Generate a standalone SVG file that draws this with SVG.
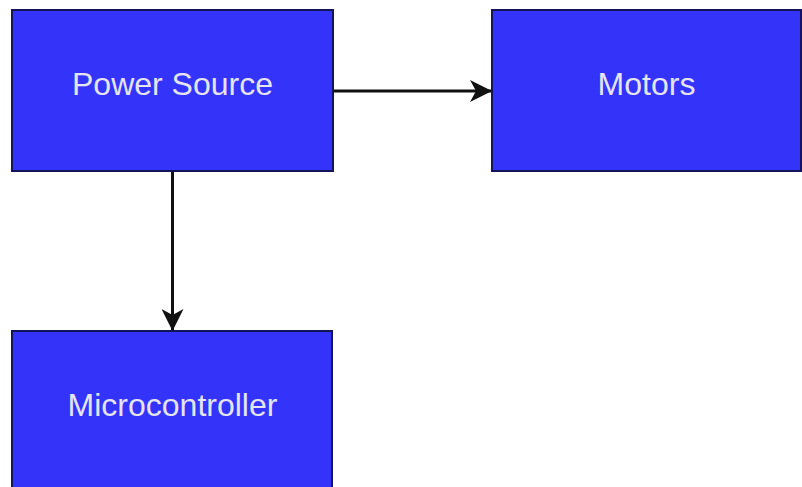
<svg xmlns="http://www.w3.org/2000/svg" width="802" height="487" viewBox="0 0 802 487">
  <style>
    .box { fill: #3333FA; stroke: #14145A; stroke-width: 2; }
    .label { font-family: "Liberation Sans", Arial, sans-serif; font-size: 32px; fill: #E4E4F2; text-anchor: middle; }
    .edge { stroke: #111111; stroke-width: 3; fill: none; }
  </style>
  <defs>
    <marker id="arrow" viewBox="0 0 22 22" refX="21" refY="11" markerWidth="22" markerHeight="22" markerUnits="userSpaceOnUse" orient="auto">
      <path d="M0,0 L22,11 L0,22 L6,11 Z" fill="#111111"/>
    </marker>
  </defs>
  <rect width="802" height="487" fill="#FFFFFF"/>
  <g id="power-source">
    <rect class="box" x="12" y="10" width="321" height="161"/>
    <text class="label" x="172.5" y="95">Power Source</text>
  </g>
  <g id="motors">
    <rect class="box" x="492" y="10" width="309" height="161"/>
    <text class="label" x="646.5" y="95">Motors</text>
  </g>
  <g id="microcontroller">
    <rect class="box" x="12" y="331" width="320" height="170"/>
    <text class="label" x="172.5" y="416">Microcontroller</text>
  </g>
  <g id="connectors">
    <line class="edge" x1="334" y1="91" x2="491" y2="91" marker-end="url(#arrow)"/>
    <line class="edge" x1="172.5" y1="172" x2="172.5" y2="330" marker-end="url(#arrow)"/>
  </g>
</svg>
